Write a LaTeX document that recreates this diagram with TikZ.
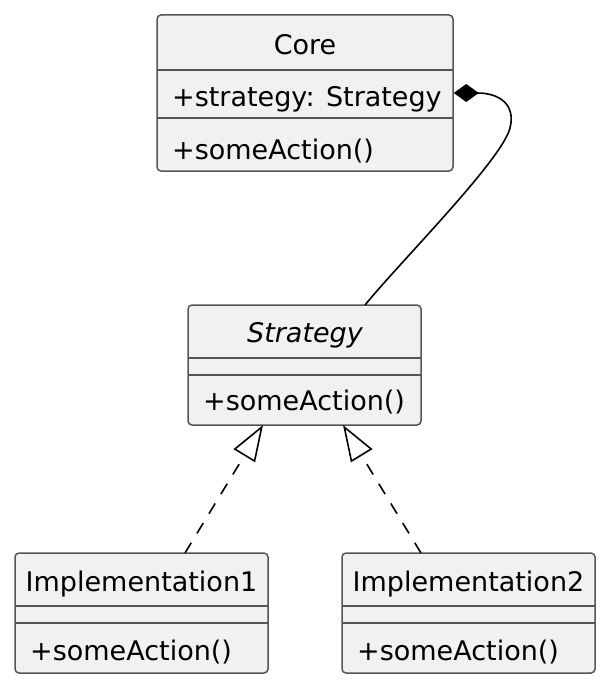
\documentclass[tikz,border=0pt]{standalone}
\usepackage{fontspec}
\setmainfont{DejaVu Sans}
\usetikzlibrary{arrows.meta}
\definecolor{boxfill}{HTML}{F1F1F1}
\definecolor{boxline}{HTML}{555555}
\begin{document}
\begin{tikzpicture}[x=1pt,y=-1pt,
  classbox/.style={draw=boxline, fill=boxfill, line width=1.5pt, rounded corners=4pt, inner sep=0pt},
  sepline/.style={draw=boxline, line width=1.5pt},
  txt/.style={inner sep=0pt, font=\fontsize{27}{32}\selectfont},
  member/.style={txt, anchor=base west},
  classname/.style={txt, anchor=base},
  conn/.style={line width=1.6pt, draw=black},
  realize/.style={conn, dashed, dash pattern=on 12pt off 11pt, -{Triangle[open, length=36pt, width=25pt]}},
]
\useasboundingbox (0,0) rectangle (606,685);

% Core
\node[classbox, minimum width=296pt, minimum height=156pt] (core) at (305,93) {};
\draw[sepline] (157,70) -- (453,70);
\draw[sepline] (157,118) -- (453,118);
\node[classname] (coreT) at (305,55) {Core};
\node[member] (coreA) at (172,106) {+strategy: Strategy};
\node[member] (coreM) at (172,159) {+someAction()};

% Strategy
\node[classbox, minimum width=233pt, minimum height=120pt] (strat) at (304.5,365) {};
\draw[sepline] (188,358) -- (421,358);
\draw[sepline] (188,375) -- (421,375);
\node[classname, font=\fontsize{27}{32}\selectfont\itshape] (stratT) at (305,342) {Strategy};
\node[member] (stratM) at (203,410) {+someAction()};

% Implementation1
\node[classbox, minimum width=253pt, minimum height=120pt] (imp1) at (141.5,613) {};
\draw[sepline] (15,606) -- (268,606);
\draw[sepline] (15,623) -- (268,623);
\node[classname] (imp1T) at (141.5,591) {Implementation1};
\node[member] (imp1M) at (30,660) {+someAction()};

% Implementation2
\node[classbox, minimum width=253pt, minimum height=120pt] (imp2) at (468.5,613) {};
\draw[sepline] (342,606) -- (595,606);
\draw[sepline] (342,623) -- (595,623);
\node[classname] (imp2T) at (468.5,591) {Implementation2};
\node[member] (imp2M) at (357,660) {+someAction()};

% connector points
\coordinate (sTop) at (365,305);
\coordinate (sB1) at (263,425);
\coordinate (sB2) at (343,425);
\coordinate (i1Top) at (185,553);
\coordinate (i2Top) at (421,553);

% composition
\draw[conn, {Diamond[length=25pt, width=18pt]}-] (core.east)
  .. controls +(45,0) and (516,104) .. (510,128)
  .. controls (502,160) and (400,262) .. (sTop);

% realizations
\draw[realize] (i1Top) -- (sB1);
\draw[realize] (i2Top) -- (sB2);
\end{tikzpicture}
\end{document}
